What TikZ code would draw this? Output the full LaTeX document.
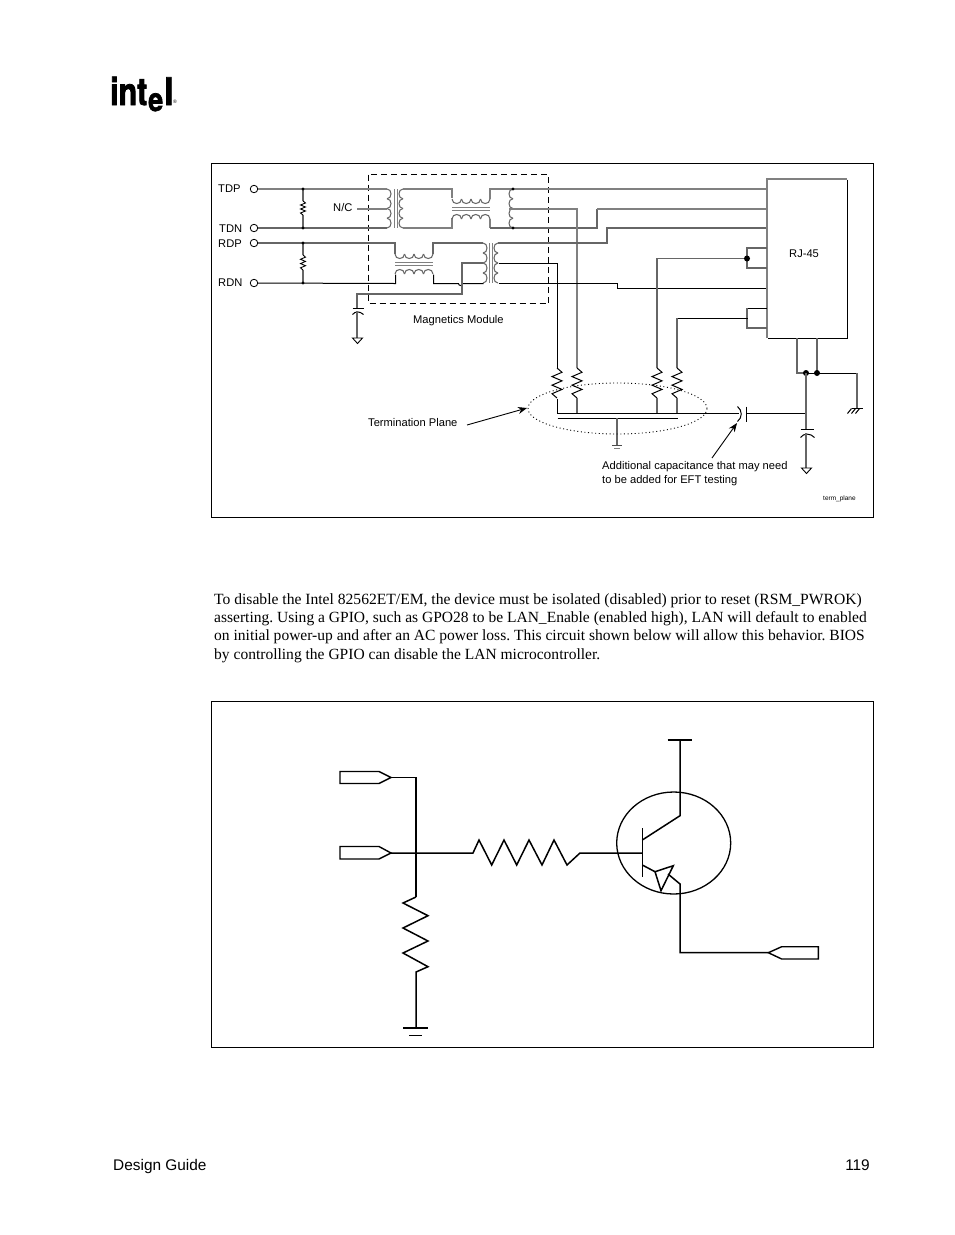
\documentclass[tikz,border=0pt]{standalone}
\usepackage{fontspec}
\setmainfont{Liberation Sans}
\newfontfamily\bodyfont{Liberation Serif}
\newfontfamily\logofont[FakeBold=2.2]{TeX Gyre Heros}
\usetikzlibrary{arrows.meta}
\newcommand{\vcoil}[6][thin]{%
  \pgfmathsetmacro\hh{(#4-#3)/#5}%
  \foreach \k in {1,...,#5}{%
    \pgfmathsetmacro\ya{#3+(\k-1)*\hh}\pgfmathsetmacro\yb{\ya+\hh}%
    \draw[#1] (#2,\ya) .. controls (#2+#6*1.33,\ya) and (#2+#6*1.33,\yb) .. (#2,\yb);}}
\newcommand{\hcoil}[6][thin]{%
  \pgfmathsetmacro\hh{(#4-#3)/#5}%
  \foreach \k in {1,...,#5}{%
    \pgfmathsetmacro\xa{#3+(\k-1)*\hh}\pgfmathsetmacro\xb{\xa+\hh}%
    \draw[#1] (\xa,#2) .. controls (\xa,#2+#6*1.33) and (\xb,#2+#6*1.33) .. (\xb,#2);}}
\newcommand{\vzig}[5][thin]{% x y1 y2 amp : three full waves between the ends
  \pgfmathsetmacro\st{(#4-#3)/7}%
  \draw[#1] (#2,#3) -- ++(#5,\st) -- ++(-2*#5,\st) -- ++(2*#5,\st) -- ++(-2*#5,\st) -- ++(2*#5,\st) -- ++(-2*#5,\st) -- (#2,#4);}
\begin{document}
\frenchspacing
\begin{tikzpicture}[x=1pt,y=-1pt,line join=miter,
  bw/.style={draw=black,line width=1pt,xshift=0.5pt,yshift=-0.5pt},
  gw/.style={draw=black!50,line width=1.5pt},
  dw/.style={draw=black!60,line width=1.05pt},
  frame/.style={draw=black,line width=1pt},
  lab/.style={anchor=base west,inner sep=0pt,font=\fontsize{11.15}{13}\selectfont},
  body/.style={anchor=base west,inner sep=0pt,font=\bodyfont\fontsize{15.6}{18}\selectfont},
  bodyb/.style={anchor=base west,inner sep=0pt,font=\bodyfont\fontsize{15.53}{18}\selectfont},
  foot/.style={inner sep=0pt,font=\fontsize{15.4}{18}\selectfont},
  term/.style={circle,draw=black,line width=0.8pt,inner sep=0pt,minimum size=7.5pt,fill=white},
  dotS/.style={circle,fill=black,inner sep=0pt,minimum size=3.2pt},
  dotL/.style={circle,fill=black,inner sep=0pt,minimum size=6pt},
  wt/.style={draw=black,line width=1.5pt},
  conn/.style={draw=black,line width=1.4pt,fill=white},
  ptr/.style={draw=black,line width=0.9pt,-{Stealth[length=9pt,width=7pt]}}]
\useasboundingbox (0,0) rectangle (954,1235);
\fill[white] (0,0) rectangle (954,1235);

% logo
\node[inner sep=0pt,anchor=base west,xscale=0.8,transform shape,font=\logofont\bfseries\fontsize{38}{38}\selectfont] (logoint) at (110,105) {int};
\node[inner sep=0pt,anchor=base west,yscale=1.2,transform shape,font=\logofont\bfseries\fontsize{27}{27}\selectfont] (logoe) at (148,111) {e};
\node[inner sep=0pt,anchor=base west,xscale=0.9,transform shape,font=\logofont\bfseries\fontsize{38}{38}\selectfont] (logol) at (164,105) {l};
\node[inner sep=0pt,font=\fontsize{5}{5}\selectfont] (logor) at (175,102) {®};

% frames
\node[frame,minimum width=662pt,minimum height=354pt,inner sep=0pt] (fig1) at (542.5,340.5) {};
\node[frame,minimum width=662pt,minimum height=346pt,inner sep=0pt] (fig2) at (542.5,874.5) {};

% terminals
\node[term] (tdp) at (254,189) {};
\node[term] (tdn) at (254,228) {};
\node[term] (rdp) at (254,243) {};
\node[term] (rdn) at (254,283) {};
\node[lab] (ltdp) at (218,192) {TDP};
\node[lab] (ltdn) at (219,232) {TDN};
\node[lab] (lrdp) at (218,247) {RDP};
\node[lab] (lrdn) at (218,286) {RDN};
\node[lab] (lnc) at (333,211) {N/C};
\node[lab] (lmag) at (413,323) {Magnetics Module};
\node[lab] (lrj) at (789,257) {RJ-45};
\node[lab] (lterm) at (368,426) {Termination Plane};
\node[lab] (ladd) at (602,469) {Additional capacitance that may need};
\node[lab] (ladd2) at (602,483) {to be added for EFT testing};
\node[lab,font=\fontsize{6.5}{8}\selectfont] (ltp) at (823,500) {term\_plane};

% magnetics module outline
\draw[draw=black,line width=1pt,dash pattern=on 6pt off 4pt] (368.5,174.5) rectangle (548.5,303.5);

% RJ-45
\coordinate (rjA) at (767,189); \coordinate (rjB) at (767,209); \coordinate (rjC) at (767,228);
\coordinate (rjD) at (767,248); \coordinate (rjE) at (767,268); \coordinate (rjF) at (767,288.5);
\coordinate (rjG) at (767,308.5); \coordinate (rjH) at (767,328);

% TD lines
\draw[gw] (tdp) -- (387,189);
\draw[dw] (tdn) -- (387,228);
\draw[gw] (357,209) -- (387,209);
\vcoil[dw]{387}{189}{228}{4}{4}
\draw[gw] (394.5,189) -- (394.5,228);
\draw[gw] (397.5,189) -- (397.5,228);
\vcoil[dw]{403}{189}{228}{4}{-4}
\draw[gw] (403,189) -- (452,189) -- (452,198);
\draw[gw] (403,228) -- (452,228) -- (452,218);
\hcoil[dw]{199}{452}{490}{4}{4.5}
\draw[gw] (452,207.5) -- (490,207.5);
\draw[gw] (452,210.5) -- (490,210.5);
\hcoil[dw]{219}{452}{490}{4}{-4.5}
\draw[gw] (490,199) -- (490,189) -- (rjA);
\draw[gw] (490,219) -- (490,228);
\vcoil[dw]{513}{189}{228}{4}{-4}
\draw[dw] (490,228) -- (597,228) -- (597,209);
\draw[gw] (597,209) -- (rjB);
\draw[gw] (509,209) -- (577,209) -- (577,368);
\node[dotS] (j1) at (513,189) {};
\node[dotS] (j2) at (513,228) {};

% RD lines
\draw[dw] (rdp) -- (395,243) -- (395,254);
\draw[bw] (rdn) -- (395,283) -- (395,274);
\hcoil[dw]{254}{395}{433}{4}{4.5}
\draw[gw] (395,262.7) -- (433,262.7);
\draw[gw] (395,265.7) -- (433,265.7);
\hcoil[dw]{274}{395}{433}{4}{-4.5}
\draw[dw] (433,254) -- (433,243) -- (483,243);
\draw[bw] (433,274) -- (433,283) -- (458,283) arc[start angle=180,end angle=0,radius=2] -- (483,283);
\vcoil[dw]{483}{243}{283}{4}{4}
\draw[gw] (489.5,243) -- (489.5,283);
\draw[gw] (492.5,243) -- (492.5,283);
\vcoil[dw]{498}{243}{283}{4}{-4}
\draw[dw] (498,243) -- (607,243) -- (607,228) -- (rjC);
\draw[bw] (498,283) -- (617,283) -- (617,288) -- (766,288);
\draw[bw] (498,263) -- (557,263) -- (557,368);
\draw[dw] (483,263) -- (462,263) -- (462,294) -- (357,294) -- (357,308);

% centre tap capacitor and ground
\draw[bw] (352,308) -- (363,308);
\draw[bw] (352,314) .. controls (355,310.5) and (359,310.5) .. (363,314);
\draw[dw] (357,311) -- (357,338);
\draw[draw=black,line width=0.9pt] (352.5,338) -- (362.5,338) -- (357.5,343.5) -- cycle;

% N/C resistors
\draw[dw] (303,189) -- (303,201); \draw[dw] (303,215) -- (303,228);
\draw[dw] (303,243) -- (303,255); \draw[dw] (303,270) -- (303,283);
\vzig[draw=black,line width=0.9pt]{303}{201}{215}{2.5}
\vzig[draw=black,line width=0.9pt]{303}{255}{270}{2.5}
\node[dotS] (j3) at (303,189) {};
\node[dotS] (j4) at (303,228) {};
\node[dotS] (j5) at (303,243) {};
\node[dotS] (j6) at (303,283) {};

% RJ-45 box and stubs
\draw[gw] (767,338) -- (767,179) -- (847,179);
\draw[bw] (847,179) -- (847,338) -- (767,338);
\draw[dw] (rjD) -- (747,248) -- (747,268) -- (rjE);
\node[dotL] (j7) at (747,258.5) {};
\draw[dw] (j7) -- (657,258.5) -- (657,368);
\draw[bw] (766,308) -- (747,308);
\draw[dw] (747,308) -- (747,328) -- (rjH);
\draw[bw] (747,318) -- (677,318);
\draw[dw] (677,318) -- (677,368);

% termination resistors
\foreach \xx in {557,577,657,677}{
  \vzig[draw=black,line width=1pt]{\xx}{368}{398}{5}
}
\draw[bw] (557,398) -- (557,413);
\draw[dw] (577,398) -- (577,413);
\draw[dw] (657,398) -- (657,413);
\draw[dw] (677,398) -- (677,413);
\draw[bw] (557,413) -- (738,413);
\draw[bw] (557,418) -- (677,418);
\draw[dw] (617,418) -- (617,445);
\draw[draw=black!70,line width=1pt] (612,445.5) -- (622,445.5);
\draw[draw=black!50,line width=0.8pt] (614,448) -- (620,448);
\draw[draw=black,line width=0.9pt,dash pattern=on 1pt off 2.6pt] (617.5,408.5) ellipse [x radius=89.5,y radius=25.5];

% EFT capacitor
\draw[bw] (737,406) .. controls (742,410) and (742,417) .. (737,421);
\draw[bw] (746,406) -- (746,421);
\draw[bw] (746,413) -- (806,413);
\draw[ptr] (467,425) -- (527,408);
\draw[ptr] (712,458) -- (737,423);

% right ground network
\draw[dw] (797,338) -- (797,373) -- (806,373);
\draw[dw] (817,338) -- (817,373);
\node[dotL] (j8) at (806,373) {};
\node[dotL] (j9) at (817,373) {};
\draw[bw] (806,373) -- (817,373) -- (857,373);
\draw[dw] (857,373) -- (857,408);
\draw[dw] (806,373) -- (806,429);
\draw[bw] (800,429) -- (813,429);
\draw[bw] (800,437) .. controls (803,432.5) and (810,432.5) .. (814,437);
\draw[dw] (806,433) -- (806,468);
\draw[draw=black,line width=0.9pt] (801.5,468) -- (811.5,468) -- (806.5,473.5) -- cycle;
\draw[bw] (851,408) -- (862,408);
\draw[bw] (851,408) -- (847,413) (855,408) -- (851,413) (859,408) -- (855,413);

% paragraph
\node[body] (p1) at (214,604) {To disable the Intel 82562ET/EM, the device must be isolated (disabled) prior to reset (RSM\_PWROK)};
\node[bodyb] (p2) at (214,622) {asserting. Using a GPIO, such as GPO28 to be LAN\_Enable (enabled high), LAN will default to enabled};
\node[bodyb] (p3) at (214,640.5) {on initial power-up and after an AC power loss. This circuit shown below will allow this behavior. BIOS};
\node[bodyb] (p4) at (214,659) {by controlling the GPIO can disable the LAN microcontroller.};

% second figure: connectors
\draw[conn] (340,771.5) -- (379,771.5) -- (391,777.5) -- (379,783.5) -- (340,783.5) -- cycle;
\draw[conn] (340,846.5) -- (379,846.5) -- (391,853) -- (379,859) -- (340,859) -- cycle;
\coordinate (ctop) at (391,777.5);
\coordinate (cmid) at (391,853);
\draw[wt] (ctop) -- (416,777.5) -- (416,897);
\draw[wt] (cmid) -- (473,853) -- (479,840) -- (491.7,865) -- (504,840) -- (516.7,865) -- (529,840) -- (542,865) -- (554,840) -- (567,865) -- (580,853) -- (642,853);
\draw[wt] (416,897) -- (403,903) -- (428,915.7) -- (403,928) -- (428,941) -- (403,953) -- (428,966.7) -- (416,972) -- (416,1028);
\draw[draw=black,line width=1.7pt] (403,1028) -- (428,1028);
\draw[draw=black,line width=1pt] (409,1035) -- (422,1035);

% transistor
\draw[draw=black,line width=1.3pt] (673.7,843) ellipse [x radius=57,y radius=51];
\draw[wt] (642.3,828) -- (642.3,877);
\draw[wt] (642.3,840) -- (680,815.7) -- (680,740);
\draw[wt] (667.7,740) -- (692,740);
\draw[wt] (642.3,865) -- (655,871.7);
\draw[wt,fill=white] (655,871.7) -- (673.3,865.7) -- (661,890.7) -- cycle;
\draw[wt] (668,874) -- (680,884) -- (680,952.7) -- (768.3,952.7);
\draw[conn] (768.3,952.7) -- (781.7,946.7) -- (818.3,946.7) -- (818.3,959) -- (781.7,959) -- cycle;

% footer
\node[foot,anchor=base west] (fl) at (113,1170) {Design Guide};
\node[foot,anchor=base east] (fr) at (870,1170) {119};
\end{tikzpicture}
\end{document}
